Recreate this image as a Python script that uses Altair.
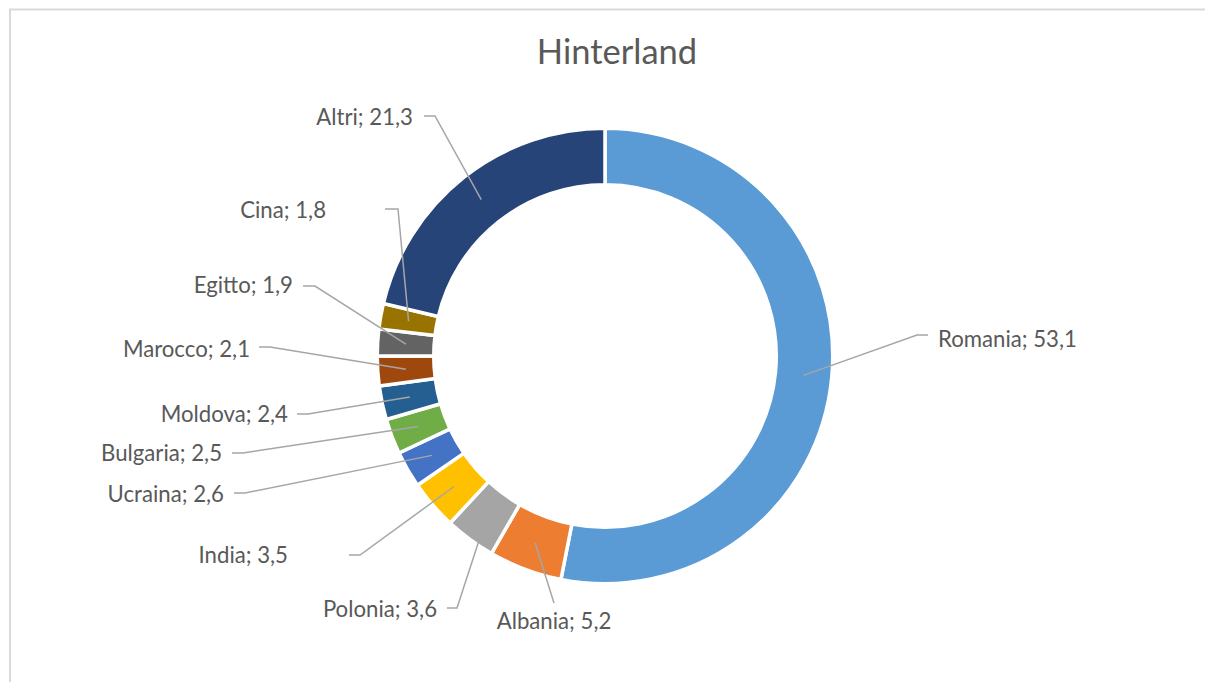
import math
import altair as alt
import pandas as pd

# ---- data ----
CATEGORIES = ["Romania", "Albania", "Polonia", "India", "Ucraina", "Bulgaria",
              "Moldova", "Marocco", "Egitto", "Cina", "Altri"]
VALUES = [53.1, 5.2, 3.6, 3.5, 2.6, 2.5, 2.4, 2.1, 1.9, 1.8, 21.3]
COLORS = ["#5B9BD5", "#ED7D31", "#A5A5A5", "#FFC000", "#4472C4", "#70AD47",
          "#255E91", "#9E480E", "#636363", "#997300", "#264478"]
TITLE = "Hinterland"

# ---- layout (page pixels) ----
W, H = 1197, 674
M = 8
CX, CY = 605, 356
R_OUT, R_IN = 226, 173
STROKE = 3.5
FONT = "Lato"
TEXT_COLOR = "#595959"
LINE_COLOR = "#A6A6A6"
LABEL_SIZE = 22.2
TITLE_SIZE = 34.5
# text_x, text_baseline, align, elbow_x, elbow_y, end_x
LABEL_LAYOUT = {
    "Romania": (938, 347, "left", 917, 335, 928),
    "Albania": (554, 629, "center", 554, 603, 554),
    "Polonia": (437, 617, "right", 457, 608, 447),
    "India": (288, 563, "right", 360, 555, 349),
    "Ucraina": (224, 502, "right", 245, 493, 234),
    "Bulgaria": (222, 461, "right", 243, 453, 232),
    "Moldova": (288, 422, "right", 308, 414, 297),
    "Marocco": (250, 357, "right", 270, 347, 259),
    "Egitto": (293, 293, "right", 315, 286, 303),
    "Cina": (326, 218, "right", 398, 209, 385),
    "Altri": (413, 125, "right", 435, 116, 424),
}

df = pd.DataFrame({"name": CATEGORIES, "value": VALUES, "idx": list(range(len(CATEGORIES)))})
total = df["value"].sum()
df["mid"] = (df["value"].cumsum() - df["value"] / 2) / total * 2 * math.pi
r_mid = (R_OUT + R_IN) / 2
df["px"] = CX + r_mid * df["mid"].apply(math.sin)
df["py"] = CY - r_mid * df["mid"].apply(math.cos)
df["label"] = [f"{n}; {v:.1f}".replace(".", ",") for n, v in zip(CATEGORIES, VALUES)]
df["tx"] = [LABEL_LAYOUT[n][0] for n in CATEGORIES]
df["ty"] = [LABEL_LAYOUT[n][1] for n in CATEGORIES]
df["al"] = [LABEL_LAYOUT[n][2] for n in CATEGORIES]

line_rows = []
for _, r in df.iterrows():
    tx, ty, al, ex, ey, endx = LABEL_LAYOUT[r["name"]]
    line_rows.append({"name": r["name"], "o": 0, "x": r["px"], "y": r["py"]})
    line_rows.append({"name": r["name"], "o": 1, "x": ex, "y": ey})
    line_rows.append({"name": r["name"], "o": 2, "x": endx, "y": ey})
lines = pd.DataFrame(line_rows)

xs = alt.Scale(domain=[M, M + W], nice=False, zero=False)
ys = alt.Scale(domain=[M, M + H], nice=False, zero=False, reverse=True)

frame = pd.DataFrame({"x": [10, 9], "x2": [10, M + W], "y": [9, 9.5], "y2": [M + H, 9.5]})
frame_layer = alt.Chart(frame).mark_rule(color="#D9D9D9", strokeWidth=2).encode(
    x=alt.X("x:Q", scale=xs, axis=None), x2="x2:Q",
    y=alt.Y("y:Q", scale=ys, axis=None), y2="y2:Q")

arcs = alt.Chart(df).mark_arc(innerRadius=R_IN - STROKE / 2, outerRadius=R_OUT + STROKE / 2,
                              stroke="white", strokeWidth=STROKE).encode(
    theta=alt.Theta("value:Q", stack=True),
    order=alt.Order("idx:Q"),
    color=alt.Color("name:N", scale=alt.Scale(domain=CATEGORIES, range=COLORS), legend=None),
    x=alt.value(CX - M),
    y=alt.value(CY - M),
)

leaders = alt.Chart(lines).mark_line(color=LINE_COLOR, strokeWidth=1.5).encode(
    x=alt.X("x:Q", scale=xs, axis=None),
    y=alt.Y("y:Q", scale=ys, axis=None),
    detail="name:N",
    order="o:Q",
)

label_layers = []
for al in ["left", "center", "right"]:
    sub = df[df["al"] == al][["label", "tx", "ty"]]
    label_layers.append(
        alt.Chart(sub).mark_text(
            font=FONT, fontSize=LABEL_SIZE, color=TEXT_COLOR, align=al, baseline="alphabetic"
        ).encode(
            x=alt.X("tx:Q", scale=xs, axis=None),
            y=alt.Y("ty:Q", scale=ys, axis=None),
            text="label:N",
        )
    )

title = alt.Chart(pd.DataFrame({"t": [TITLE], "x": [617], "y": [64]})).mark_text(
    font=FONT, fontSize=TITLE_SIZE, color=TEXT_COLOR, align="center", baseline="alphabetic"
).encode(x=alt.X("x:Q", scale=xs, axis=None), y=alt.Y("y:Q", scale=ys, axis=None), text="t:N")

chart = alt.layer(frame_layer, arcs, leaders, *label_layers, title).properties(
    width=W, height=H, padding=0, autosize=alt.AutoSizeParams(type="none"),
    background="white"
).configure_view(stroke=None)

chart.save("out.html", embed_options={"renderer": "svg", "actions": False})
